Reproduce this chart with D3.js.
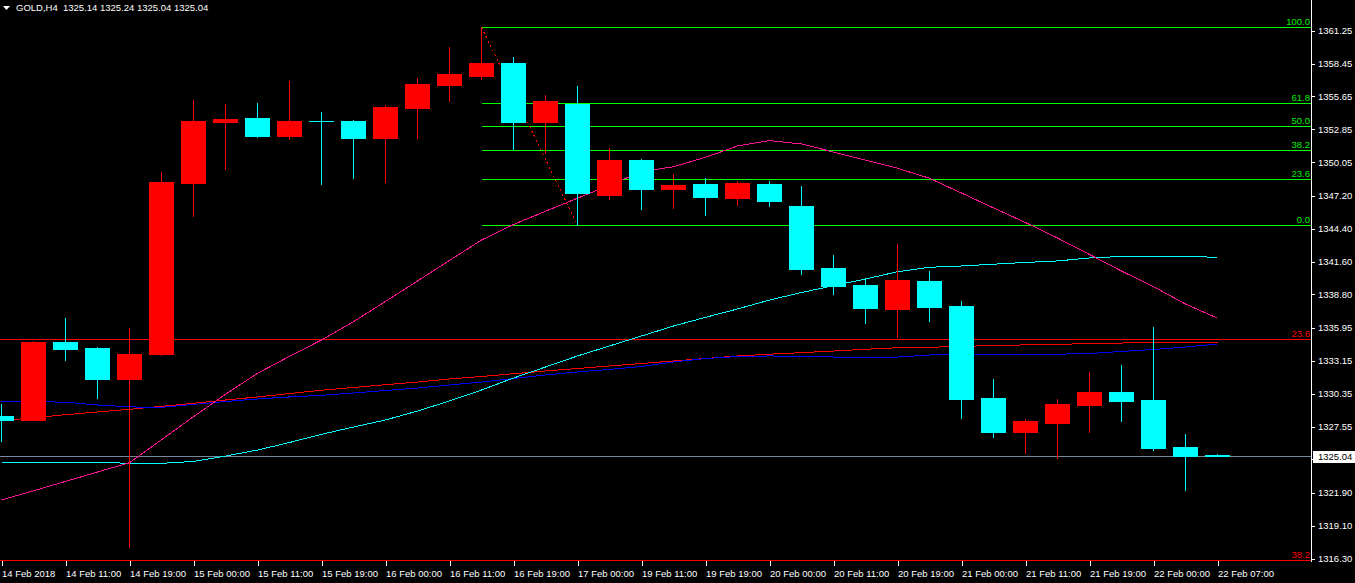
<!DOCTYPE html>
<html>
<head>
<meta charset="utf-8">
<script src="https://cdn.jsdelivr.net/npm/d3@7"></script>
<style>
  html, body { margin: 0; padding: 0; background: #000; }
  svg { display: block; }
  text { font-family: "Liberation Sans", Arial, sans-serif; font-size: 9.5px; }
</style>
</head>
<body>
<svg id="chart" width="1355" height="583"></svg>
<script>
// ---------------- DATA ----------------
const symbol = "GOLD,H4";
const opens  = [1328.45,1328.11,1334.75,1334.24,1331.62,1333.75,1348.31,1353.50,1353.82,1352.31,
                1353.58,1353.56,1352.14,1354.70,1356.65,1357.42,1358.50,1353.50,1355.04,1347.26,
                1350.24,1347.77,1348.20,1347.01,1348.20,1346.33,1341.05,1339.60,1337.56,1339.94,
                1337.81,1329.98,1327.09,1327.85,1329.39,1330.49,1329.81,1325.81,1325.14];
const highs  = [1329.47,1334.83,1336.79,1334.30,1335.94,1349.22,1355.35,1355.01,1355.12,1356.97,
                1354.33,1353.64,1354.90,1357.22,1359.86,1361.54,1359.01,1355.78,1356.54,1351.26,
                1350.33,1349.05,1348.71,1348.46,1348.46,1348.03,1342.16,1340.11,1343.09,1340.79,
                1338.24,1331.60,1328.19,1329.90,1332.19,1332.79,1336.03,1326.92,1325.24];
const lows   = [1326.35,1328.11,1333.22,1330.01,1317.27,1333.67,1345.50,1349.50,1352.23,1352.03,
                1348.23,1348.74,1348.40,1352.14,1355.29,1357.14,1351.18,1350.87,1344.68,1346.95,
                1346.07,1346.16,1345.56,1346.41,1346.33,1340.54,1338.84,1336.37,1335.17,1336.54,
                1328.28,1326.66,1325.30,1324.87,1327.09,1328.02,1325.55,1322.15,1325.04];
const closes = [1328.11,1334.75,1334.15,1331.62,1333.73,1348.37,1353.56,1353.73,1352.31,1353.56,
                1353.56,1352.14,1354.76,1356.71,1357.57,1358.50,1353.50,1355.27,1347.43,1350.24,
                1347.77,1348.12,1347.09,1348.29,1346.75,1340.96,1339.52,1337.64,1340.03,1337.73,
                1329.90,1327.09,1328.02,1329.47,1330.49,1329.73,1325.72,1325.04,1325.04];

// moving averages (values per bar)
const maPink = [1321.30,1322.08,1322.88,1323.68,1324.47,1326.43,1328.39,1330.30,1332.08,1333.53,
                1334.92,1336.48,1338.20,1339.94,1341.69,1343.43,1344.75,1345.88,1346.99,1348.10,
                1349.25,1349.67,1350.47,1351.44,1351.89,1351.61,1350.92,1350.24,1349.54,1348.69,
                1347.43,1346.16,1344.92,1343.60,1342.20,1340.79,1339.46,1337.98,1336.77];
const maCyan = [1324.51,1324.51,1324.51,1324.51,1324.42,1324.42,1324.58,1325.04,1325.55,1326.19,
                1326.89,1327.51,1328.11,1328.87,1329.73,1330.66,1331.68,1332.62,1333.56,1334.41,
                1335.26,1336.11,1336.85,1337.56,1338.32,1338.96,1339.54,1340.11,1340.73,1341.11,
                1341.22,1341.37,1341.52,1341.65,1341.90,1342.03,1342.05,1342.03,1341.96];
const maBlue = [1329.70,1329.68,1329.62,1329.39,1329.22,1329.19,1329.43,1329.68,1329.90,1330.07,
                1330.21,1330.41,1330.62,1330.83,1331.09,1331.34,1331.64,1331.94,1332.20,1332.41,
                1332.66,1333.05,1333.34,1333.51,1333.56,1333.53,1333.47,1333.39,1333.47,1333.64,
                1333.70,1333.70,1333.70,1333.71,1333.77,1333.94,1334.11,1334.32,1334.58];
const maRed  = [1328.05,1328.30,1328.56,1328.79,1329.02,1329.27,1329.53,1329.81,1330.07,1330.36,
                1330.64,1330.88,1331.11,1331.34,1331.60,1331.81,1332.05,1332.28,1332.49,1332.71,
                1332.92,1333.13,1333.34,1333.56,1333.71,1333.84,1333.98,1334.13,1334.26,1334.30,
                1334.37,1334.45,1334.50,1334.55,1334.61,1334.66,1334.71,1334.72,1334.72];

// Fibonacci retracement (green): drawn from bar 15 high to bar 18 low
const fibFromBar = 15, fibToBar = 18;
const fibLevels = [0, 23.6, 38.2, 50, 61.8, 100];
// second (red) Fibonacci, only two levels visible
const redFibLevels = [23.6, 38.2];
const redFibPrices = [1334.98, 1316.19];

const bidPrice = 1325.04;
// 1324.75 is hidden behind the bid label in the reference: tick only
const priceTicks = [1361.25,1358.45,1355.65,1352.85,1350.05,1347.20,1344.40,1341.60,1338.80,
                    1335.95,1333.15,1330.35,1327.55,1324.75,1321.90,1319.10,1316.30];
const hiddenTick = 1324.75;
const timeTickIdx = [0,2,4,6,8,10,12,14,16,18,20,22,24,26,28,30,32,34,36,38];
const timeTickLabels = ["14 Feb 2018","14 Feb 11:00","14 Feb 19:00","15 Feb 00:00","15 Feb 11:00",
  "15 Feb 19:00","16 Feb 00:00","16 Feb 11:00","16 Feb 19:00","17 Feb 00:00","19 Feb 11:00",
  "19 Feb 19:00","20 Feb 00:00","20 Feb 11:00","20 Feb 19:00","21 Feb 00:00","21 Feb 11:00",
  "21 Feb 19:00","22 Feb 00:00","22 Feb 07:00"];

// ---------------- CHART ----------------
const W = 1355, H = 583;
const plotRight = 1311.5, plotBottom = 561;
const svg = d3.select("#chart");
svg.append("rect").attr("width", W).attr("height", H).attr("fill", "#000");

const n = opens.length;
const x = d3.scaleLinear().domain([0, n - 1]).range([1.5, 1217.5]);
const y = d3.scaleLinear().domain([1316.30, 1361.25]).range([558.7, 30.7]);
const py = v => Math.round(y(v)) + 0.5;

const bars = d3.range(n).map(i => ({i, o: opens[i], h: highs[i], l: lows[i], c: closes[i]}));
const UP = "#ff0000", DOWN = "#00ffff";

const plot = svg.append("g").attr("shape-rendering", "crispEdges");

// red fib lines (full width)
redFibLevels.forEach((lv, k) => {
  const yy = Math.round(y(redFibPrices[k])) + 0.5;
  plot.append("line").attr("x1", 0).attr("x2", plotRight).attr("y1", yy).attr("y2", yy)
    .attr("stroke", "#ff0000").attr("stroke-width", 1);
  svg.append("text").attr("x", 1310).attr("y", yy - 2.5).attr("text-anchor", "end")
    .attr("fill", "#ff0000").text(lv.toFixed(1));
});

// green fib
const fHigh = highs[fibFromBar], fLow = lows[fibToBar];
fibLevels.forEach(lv => {
  const price = fLow + (fHigh - fLow) * lv / 100;
  const yy = Math.round(y(price)) + 0.5;
  plot.append("line").attr("x1", x(fibFromBar)).attr("x2", plotRight).attr("y1", yy).attr("y2", yy)
    .attr("stroke", "#00ff00").attr("stroke-width", 1);
  svg.append("text").attr("x", 1310).attr("y", yy - 2.5).attr("text-anchor", "end")
    .attr("fill", "#00ee00").text(lv.toFixed(1));
});
// fib trend line (dotted)
plot.append("line")
  .attr("x1", x(fibFromBar)).attr("y1", y(fHigh))
  .attr("x2", x(fibToBar)).attr("y2", y(fLow))
  .attr("stroke", "#ff0000").attr("stroke-width", 1).attr("stroke-dasharray", "2,3");

// bid line
plot.append("line").attr("x1", 0).attr("x2", plotRight)
  .attr("y1", py(bidPrice)).attr("y2", py(bidPrice))
  .attr("stroke", "#778899").attr("stroke-width", 1);

// moving averages
const lineGen = d3.line().x((d, i) => x(i)).y(d => y(d));
[[maRed, "#ff0000"], [maBlue, "#0000ff"], [maCyan, "#00ffff"], [maPink, "#ff1493"]].forEach(([arr, col]) => {
  plot.append("path").datum(arr).attr("d", lineGen)
    .attr("fill", "none").attr("stroke", col).attr("stroke-width", 1);
});

// candles
const cg = plot.append("g");
bars.forEach(b => {
  const col = b.c >= b.o ? UP : DOWN;
  const cx = Math.round(x(b.i) - 0.5);
  const yh = Math.round(y(b.h)), yl = Math.round(y(b.l));
  cg.append("rect").attr("x", cx).attr("y", yh).attr("width", 1).attr("height", Math.max(1, yl - yh + 1))
    .attr("fill", col);
  const yt = Math.round(y(Math.max(b.o, b.c))), yb = Math.round(y(Math.min(b.o, b.c)));
  cg.append("rect").attr("x", cx - 12).attr("y", yt).attr("width", 25)
    .attr("height", Math.max(1, yb - yt + 1)).attr("fill", col);
});

// frame
plot.append("line").attr("x1", plotRight).attr("x2", plotRight).attr("y1", 0).attr("y2", plotBottom + 0.5)
  .attr("stroke", "#fff");

// price axis
const yAxis = d3.axisRight(y).tickValues(priceTicks).tickSize(3).tickPadding(3.5)
  .tickFormat(d => d === hiddenTick ? "" : d3.format(".2f")(d));
const ya = svg.append("g").attr("transform", `translate(${plotRight},0)`).call(yAxis);
ya.select(".domain").remove();
ya.selectAll(".tick line").attr("stroke", "#fff").attr("shape-rendering", "crispEdges");
ya.selectAll(".tick text").attr("fill", "#fff").attr("font-family", null).attr("font-size", null);

// current price box
svg.append("rect").attr("x", 1312.5).attr("y", py(bidPrice) - 6).attr("width", 43).attr("height", 12)
  .attr("fill", "#fff").attr("shape-rendering", "crispEdges");
svg.append("text").attr("x", 1318).attr("y", py(bidPrice) + 3.5).attr("fill", "#000").text(bidPrice.toFixed(2));

// time axis
const xAxis = d3.axisBottom(x).tickValues(timeTickIdx).tickSize(5).tickPadding(4)
  .tickFormat((d, k) => timeTickLabels[k]);
const xa = svg.append("g").attr("transform", `translate(0,${plotBottom})`).call(xAxis);
xa.select(".domain").remove();
xa.selectAll(".tick line").attr("stroke", "#fff").attr("shape-rendering", "crispEdges");
xa.selectAll(".tick text").attr("fill", "#fff").attr("text-anchor", "start").attr("dx", "0")
  .attr("font-family", null).attr("font-size", null);

// title
svg.append("path").attr("d", "M3,6 L10,6 L6.5,10 Z").attr("fill", "#fff");
const last = n - 1;
svg.append("text").attr("x", 16).attr("y", 11).attr("fill", "#fff").style("white-space", "pre")
  .text(`${symbol}  ${opens[last].toFixed(2)} ${highs[last].toFixed(2)} ${lows[last].toFixed(2)} ${closes[last].toFixed(2)}`);
</script>
</body>
</html>
